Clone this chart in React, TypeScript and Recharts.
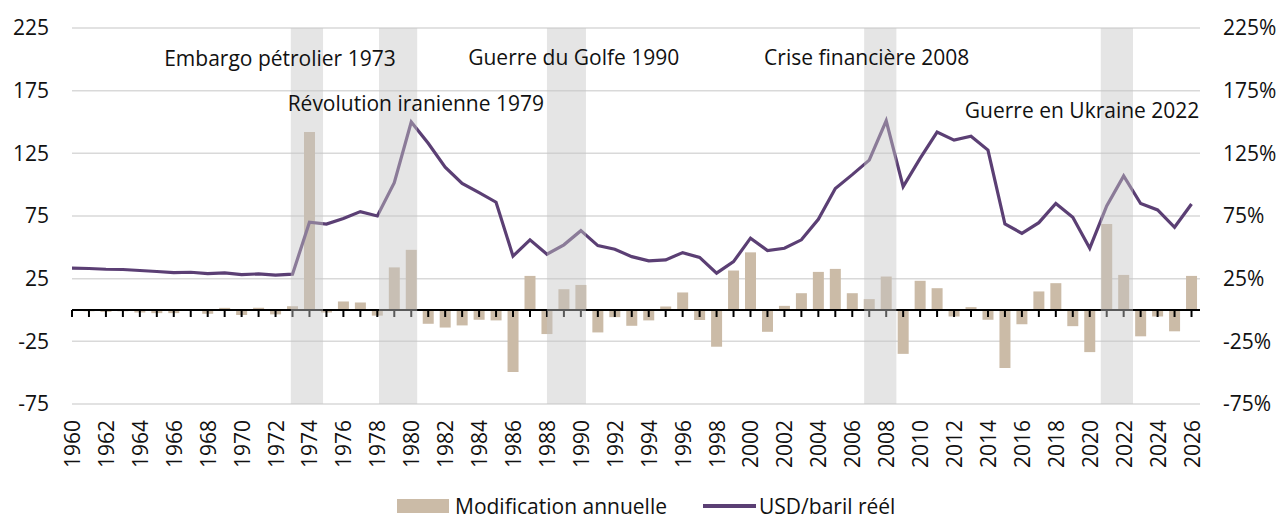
import React from "react";
import {
  ComposedChart,
  Bar,
  Line,
  Scatter,
  XAxis,
  YAxis,
  CartesianGrid,
  ReferenceArea,
  ReferenceLine,
  ReferenceDot,
  Legend,
} from "recharts";

const years = [
  1960, 1961, 1962, 1963, 1964, 1965, 1966, 1967, 1968, 1969,
  1970, 1971, 1972, 1973, 1974, 1975, 1976, 1977, 1978, 1979,
  1980, 1981, 1982, 1983, 1984, 1985, 1986, 1987, 1988, 1989,
  1990, 1991, 1992, 1993, 1994, 1995, 1996, 1997, 1998, 1999,
  2000, 2001, 2002, 2003, 2004, 2005, 2006, 2007, 2008, 2009,
  2010, 2011, 2012, 2013, 2014, 2015, 2016, 2017, 2018, 2019,
  2020, 2021, 2022, 2023, 2024, 2025, 2026,
];

// USD/baril réél
const realPrice = [
  33.4, 33.1, 32.5, 32.3, 31.5, 30.7, 29.9, 30.1, 29.1, 29.6,
  28.3, 28.8, 27.8, 28.6, 70, 68.6, 73, 78.5, 75, 101.5,
  150, 133, 114, 101, 93.6, 86, 43, 56, 44.5, 52,
  63.3, 51.4, 48.5, 42.6, 39.2, 40, 45.8, 42, 29.4, 38.6,
  57.3, 47.4, 49.3, 56, 72.4, 97, 108, 119.6, 151, 98.4,
  121, 142, 135.5, 138.7, 127.6, 68.6, 61.2, 69.7, 85, 74,
  49.3, 83, 107, 85, 79.8, 66, 84.6,
];

// Modification annuelle (%)
const annualChange = [
  0, -1, -1.5, -1, -2, -2.5, -2.5, 0.8, -3, 1.7,
  -4, 1.8, -3.5, 3, 142, -2, 6.8, 6, -4.5, 34,
  48, -11, -14, -12.3, -7.8, -8.3, -49.5, 27.2, -19.2, 16.6,
  20, -17.9, -5.7, -12.6, -8.3, 2.8, 14, -8, -29.3, 31.5,
  46, -17.4, 3.3, 13.4, 30.4, 32.8, 13.4, 8.7, 26.7, -35,
  23.3, 17.4, -5.2, 2.3, -7.8, -46.3, -11.3, 14.8, 21.4, -12.9,
  -33.6, 68.6, 28, -21, -5.2, -17, 27.2,
];

const xTicks = [
  1960, 1962, 1964, 1966, 1968, 1970, 1972, 1974, 1976, 1978, 1980, 1982,
  1984, 1986, 1988, 1990, 1992, 1994, 1996, 1998, 2000, 2002, 2004, 2006,
  2008, 2010, 2012, 2014, 2016, 2018, 2020, 2022, 2024, 2026,
];
const yTicks = [-75, -25, 25, 75, 125, 175, 225];

// shaded crisis periods
const bandStart = [1972.9, 1978.1, 1988, 2006.7, 2020.65];
const bandEnd = [1974.8, 1980.35, 1990.3, 2008.6, 2022.55];

const eventLabels = [
  "Embargo pétrolier 1973",
  "Révolution iranienne 1979",
  "Guerre du Golfe 1990",
  "Crise financière 2008",
  "Guerre en Ukraine 2022",
];
const eventYear = [1972.26, 1980.27, 1989.58, 2006.85, 2019.55];
const eventValue = [200.8, 165, 202, 202, 159.4];

const data = years.map((year, i) => ({
  year,
  price: realPrice[i],
  change: annualChange[i],
  zero: 0,
}));

const FONT = "'Open Sans', sans-serif";
const FS = 21;
const LINE_COLOR = "#5b3f74";
const BAR_COLOR = "#cbbba7";

const YearTick = (props: any) => {
  const { x, y, payload } = props;
  return (
    <text
      x={x}
      y={y + 8}
      transform={`rotate(-90, ${x}, ${y + 8})`}
      textAnchor="end"
      dominantBaseline="central"
      fontSize={FS}
      fontFamily={FONT}
      fill="#111"
    >
      {payload.value}
    </text>
  );
};

const TickMark = (props: any) => {
  const { cx, cy } = props;
  return <line x1={cx} x2={cx} y1={cy} y2={cy + 7} stroke="#000" strokeWidth={2} />;
};

const LegendContent = () => (
  <div
    style={{
      height: 34,
      paddingTop: 10,
      boxSizing: "border-box",
      display: "flex",
      alignItems: "center",
      paddingLeft: 397,
      fontFamily: FONT,
      fontSize: FS,
      color: "#111",
      lineHeight: "20px",
    }}
  >
    <span style={{ width: 52, height: 14, background: BAR_COLOR, display: "inline-block", marginRight: 6 }} />
    <span>Modification annuelle</span>
    <span style={{ width: 53, height: 4, background: LINE_COLOR, display: "inline-block", marginLeft: 36, marginRight: 3 }} />
    <span>USD/baril réél</span>
  </div>
);

export default function App() {
  return (
    <div style={{ position: "absolute", left: 0, top: 0 }}>
      <ComposedChart
        width={1283}
        height={518}
        data={data}
        margin={{ top: 28, right: 0, bottom: 0, left: 0 }}
      >
        <CartesianGrid yAxisId="left" vertical={false} stroke="#d9d9d9" strokeWidth={1.5} />
        <XAxis
          dataKey="year"
          type="number"
          domain={[1960, 2026.5]}
          ticks={xTicks}
          interval={0}
          tickLine={false}
          axisLine={false}
          height={80}
          tick={<YearTick />}
        />
        <YAxis
          yAxisId="left"
          domain={[-75, 225]}
          ticks={yTicks}
          width={72}
          tickLine={false}
          axisLine={false}
          tickMargin={17}
          tick={{ fontSize: FS, fontFamily: FONT, fill: "#111" }}
        />
        <YAxis
          yAxisId="right"
          orientation="right"
          domain={[-75, 225]}
          ticks={yTicks}
          width={83}
          tickLine={false}
          axisLine={false}
          tickMargin={17}
          tickFormatter={(v: number) => `${v}%`}
          tick={{ fontSize: FS, fontFamily: FONT, fill: "#111", textAnchor: "start" }}
        />
        <Legend verticalAlign="bottom" content={<LegendContent />} />
        <Bar
          yAxisId="right"
          dataKey="change"
          fill={BAR_COLOR}
          barSize={11}
          isAnimationActive={false}
        />
        <Line
          yAxisId="left"
          dataKey="price"
          stroke={LINE_COLOR}
          strokeWidth={3.2}
          dot={false}
          activeDot={false}
          isAnimationActive={false}
        />
        <ReferenceLine yAxisId="left" y={0} stroke="#000" strokeWidth={2} zIndex={700} />
        <Scatter
          yAxisId="left"
          dataKey="zero"
          shape={<TickMark />}
          isAnimationActive={false}
          zIndex={800}
        />
        {bandStart.map((s, i) => (
          <ReferenceArea
            key={`band-${i}`}
            yAxisId="left"
            x1={s}
            x2={bandEnd[i]}
            y1={-75}
            y2={225}
            fill="#c5c5c5"
            fillOpacity={0.45}
            stroke="none"
            zIndex={2500}
          />
        ))}
        {eventLabels.map((label, i) => (
          <ReferenceDot
            key={`ev-${i}`}
            yAxisId="left"
            x={eventYear[i]}
            y={eventValue[i]}
            zIndex={3000}
            shape={(p: any) => (
              <text
                x={p.cx}
                y={p.cy}
                textAnchor="middle"
                dominantBaseline="central"
                fontSize={FS}
                fontFamily={FONT}
                fill="#111"
              >
                {label}
              </text>
            )}
          />
        ))}
      </ComposedChart>
    </div>
  );
}
